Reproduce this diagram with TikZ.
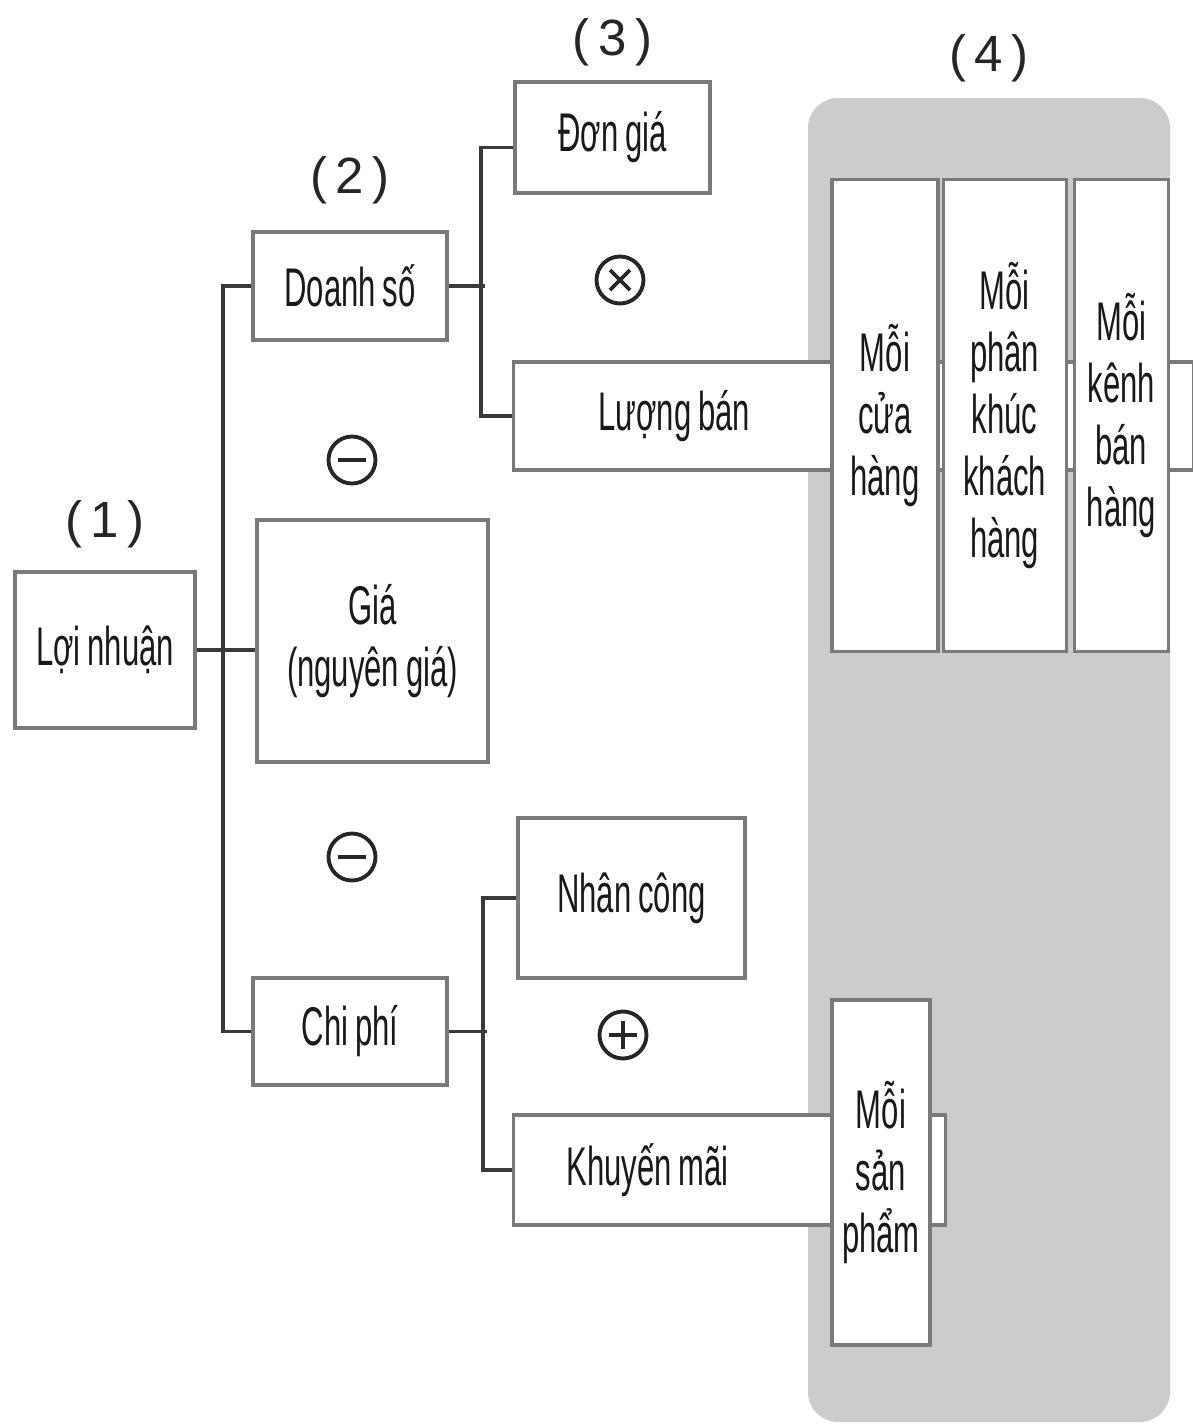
\documentclass[tikz,border=0pt]{standalone}
\usepackage{fontspec}
\setmainfont{Liberation Sans}
\newfontfamily\narrowfont{Liberation Sans}[FakeStretch=0.57, WordSpace=0.8]
\usetikzlibrary{positioning}
\definecolor{boxgray}{HTML}{7A7A7A}
\definecolor{linegray}{HTML}{3A3A3A}
\definecolor{panelgray}{HTML}{CCCCCC}

\begin{document}
\begin{tikzpicture}[
    box/.style={draw=boxgray, line width=0.9pt, fill=white, inner sep=2pt,
                font=\narrowfont\fontsize{15.5}{17.6}\selectfont, text=black!90, align=center},
    col/.style={box, anchor=north, minimum height=4.72cm},
    num/.style={inner sep=0pt, font=\fontsize{14.5}{16}\selectfont, text=black!85},
    conn/.style={draw=linegray, line width=1.1pt},
    panel/.style={fill=panelgray, rounded corners=0.3cm, minimum width=3.62cm, minimum height=13.24cm},
    op/.style={circle, draw=black!85, line width=1.1pt, minimum size=0.47cm, inner sep=0pt},
    opminus/.style={op, path picture={\draw[line width=1.1pt] (path picture bounding box.center) +(-0.14,0) -- +(0.14,0);}},
    opplus/.style={op, path picture={\draw[line width=1.1pt] (path picture bounding box.center) +(-0.14,0) -- +(0.14,0) +(0,-0.14) -- +(0,0.14);}},
    optimes/.style={op, path picture={\draw[line width=1.1pt] (path picture bounding box.center) +(-0.1,-0.1) -- +(0.1,0.1) +(-0.1,0.1) -- +(0.1,-0.1);}},
]
  \useasboundingbox (0,0) rectangle (11.93,-14.25);

  \node[panel] (pnl) at (9.89,-7.60) {};
  \node[num, above=0.15cm of pnl] (l4) {(\,4\,)};

  \node[box, minimum width=1.80cm, minimum height=1.56cm] (lr) at (1.05,-6.50) {Lợi nhuận};
  \node[num, above=0.22cm of lr] (l1) {(\,1\,)};
  \node[box, minimum width=1.94cm, minimum height=1.08cm] (ds) at (3.50,-2.86) {Doanh số};
  \node[num, above=0.26cm of ds] (l2) {(\,2\,)};
  \node[box, minimum width=2.31cm, minimum height=2.42cm] (gia) at (3.725,-6.41) {Giá\\(nguyên giá)};
  \node[box, minimum width=1.94cm, minimum height=1.07cm] (cp) at (3.50,-10.315) {Chi phí};

  \node[box, minimum width=1.95cm, minimum height=1.11cm] (dg) at (6.125,-1.375) {Đơn giá};
  \node[num, above=0.14cm of dg] (l3) {(\,3\,)};
  \node[box, anchor=west, inner xsep=0.85cm, minimum height=1.08cm] (lb) at (5.12,-4.16) {\hbox to 5.10cm{Lượng bán\hfil}};
  \node[box, minimum width=2.27cm, minimum height=1.60cm] (nc) at (6.315,-8.98) {Nhân công};
  \node[box, anchor=west, inner xsep=0.53cm, minimum height=1.10cm] (km) at (5.12,-11.70) {\hbox to 3.26cm{Khuyến mãi\hfil}};

  \node[col, minimum width=1.06cm] (mch) at (8.85,-1.78) {Mỗi\\cửa\\hàng};
  \node[col, minimum width=1.23cm, right=0.02cm of mch] (mpk) {Mỗi\\phân\\khúc\\khách\\hàng};
  \node[col, minimum width=0.94cm, right=0.05cm of mpk] (mkb) {Mỗi\\kênh\\bán\\hàng};
  \node[box, minimum width=0.98cm, minimum height=3.45cm] (msp) at (8.81,-11.725) {Mỗi\\sản\\phẩm};

  \node[optimes] (x1) at (6.20,-2.80) {};
  \node[opminus] (m1) at (3.52,-4.60) {};
  \node[opminus] (m2) at (3.52,-8.57) {};
  \node[opplus] (p1) at (6.23,-10.35) {};

  \draw[conn] (lr.east) -- (lr.east -| gia.west);
  \draw[conn] (ds.west) -- ++(-0.28,0) |- (cp.west);
  \draw[conn] (ds.east) -- ++(0.36,0);
  \draw[conn] ([yshift=-0.1cm]dg.west) -- ++(-0.32,0) |- (lb.west);
  \draw[conn] (cp.east) -- ++(0.38,0);
  \draw[conn] (nc.west) -- ++(-0.33,0) |- (km.west);
\end{tikzpicture}
\end{document}
